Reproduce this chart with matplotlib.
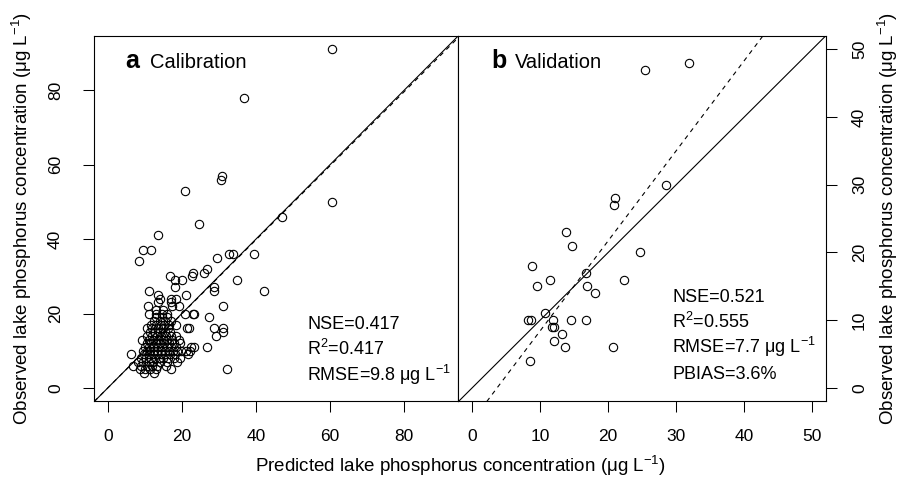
import matplotlib
matplotlib.use("Agg")
import matplotlib.pyplot as plt

# ---------------- data ----------------
# Calibration: predicted vs observed lake P (ug/L)
calib_pred = [
    9.8, 12.5,
    8.6, 10.1, 11.3, 13.0, 17.0, 32.3,
    6.9, 8.9, 10.5, 11.9, 13.4, 15.6,
    8.1, 9.6, 11.0, 12.3, 14.1, 16.0, 18.8,
    9.0, 10.3, 11.6, 12.7, 13.7, 14.9, 16.3, 17.8, 19.6,
    6.4, 9.9, 11.1, 12.1, 13.2, 14.4, 15.5, 16.8, 18.1, 21.6,
    9.5, 10.6, 11.5, 12.5, 13.4, 14.5, 15.4, 16.5, 17.6, 18.6, 19.8, 21.1, 22.1,
    10.1, 11.2, 12.3, 13.5, 14.6, 15.9, 17.1, 18.4, 22.5, 23.3, 26.7,
    10.6, 11.8, 13.0, 14.2, 15.3, 16.6, 18.0, 19.6,
    9.3, 11.0, 12.2, 13.6, 14.8, 16.0, 17.3, 19.2,
    10.7, 12.0, 13.2, 14.5, 15.8, 17.0, 18.3, 29.3,
    11.5, 12.8, 14.0, 15.5, 16.8, 31.1,
    10.5, 12.0, 13.6, 15.0, 16.3, 21.5, 21.8, 28.7, 31.0,
    11.6, 13.0, 14.4, 15.3, 16.6, 18.5,
    12.5, 14.0, 15.5, 17.1,
    13.1, 14.6, 16.0, 27.4,
    11.1, 12.9, 14.7, 16.1, 20.9, 22.9, 23.3,
    12.9, 15.0,
    10.9, 17.4, 19.2, 31.0,
    13.5, 17.0,
    14.0, 17.0, 18.5,
    13.5, 21.0,
    11.1, 28.7, 42.1,
    18.2, 28.8,
    18.2, 20.0, 35.0,
    16.8, 22.6,
    22.9, 26.1,
    26.8,
    8.4,
    29.4,
    32.6, 33.7, 39.5,
    9.5, 11.7,
    13.6,
    24.6,
    47.1,
    60.6,
    20.8,
    30.6,
    30.8,
    36.8,
    60.4,
]
calib_obs = [
    4, 4,
    5, 5, 5, 5, 5, 5,
    6, 6, 6, 6, 6, 6,
    7, 7, 7, 7, 7, 7, 7,
    8, 8, 8, 8, 8, 8, 8, 8, 8,
    9, 9, 9, 9, 9, 9, 9, 9, 9, 9,
    10, 10, 10, 10, 10, 10, 10, 10, 10, 10, 10, 10, 10,
    11, 11, 11, 11, 11, 11, 11, 11, 11, 11, 11,
    12, 12, 12, 12, 12, 12, 12, 12,
    13, 13, 13, 13, 13, 13, 13, 13,
    14, 14, 14, 14, 14, 14, 14, 14,
    15, 15, 15, 15, 15, 15,
    16, 16, 16, 16, 16, 16, 16, 16, 16,
    17, 17, 17, 17, 17, 17,
    18, 18, 18, 18,
    19, 19, 19, 19,
    20, 20, 20, 20, 20, 20, 20,
    21, 21,
    22, 22, 22, 22,
    23, 23,
    24, 24, 24,
    25, 25,
    26, 26, 26,
    27, 27,
    29, 29, 29,
    30, 30,
    31, 31,
    32,
    34,
    35,
    36, 36, 36,
    37, 37,
    41,
    44,
    46,
    50,
    53,
    56,
    57,
    78,
    91,
]

# Validation
val_pred = [25.4, 31.9, 28.5, 21.0, 20.8, 13.8, 14.7, 24.7, 8.8, 11.5, 22.3,
            16.8, 9.6, 16.9, 18.0, 10.75, 8.2, 8.7, 11.9, 14.5, 16.8, 11.8,
            12.0, 13.2, 12.0, 13.6, 20.7, 8.5]
val_obs = [47, 48, 30, 28, 27, 23, 21, 20, 18, 16, 16,
           17, 15, 15, 14, 11, 10, 10, 10, 10, 10, 9,
           9, 8, 7, 6, 6, 4]

# regression lines (observed ~ predicted)
calib_fit = (0.0, 0.995)     # intercept, slope
val_fit = (-4.88, 1.33)

calib_stats = ["NSE=0.417", "R$^2$=0.417", r"RMSE=9.8 $\mathrm{\mu g\ L^{-1}}$"]
val_stats = ["NSE=0.521", "R$^2$=0.555", r"RMSE=7.7 $\mathrm{\mu g\ L^{-1}}$", "PBIAS=3.6%"]

calib_ticks = [0, 20, 40, 60, 80]
val_ticks = [0, 10, 20, 30, 40, 50]

# ---------------- style ----------------
plt.rcParams["font.family"] = ["Liberation Sans", "DejaVu Sans"]
plt.rcParams["mathtext.fontset"] = "custom"
plt.rcParams["mathtext.rm"] = "Liberation Sans"
plt.rcParams["mathtext.it"] = "Liberation Sans:italic"
plt.rcParams["mathtext.bf"] = "Liberation Sans:bold"

fig = plt.figure(figsize=(9.1, 4.79), dpi=100)
ax1 = fig.add_axes([0.1036, 0.1618, 0.4002, 0.7637])
ax2 = fig.add_axes([0.5038, 0.1618, 0.4038, 0.7637])

mk = dict(ls="none", marker="o", mfc="none", mec="black", ms=6, mew=0.8)

ax1.plot(calib_pred, calib_obs, **mk)
ax1.axline((0, 0), slope=1, color="black", lw=0.8)
ax1.axline((0, calib_fit[0]), slope=calib_fit[1], color="black", lw=0.8, ls=(0, (4, 4)))
ax1.set_xlim(-3.64, 94.64)
ax1.set_ylim(-3.64, 94.64)
ax1.set_xticks(calib_ticks)
ax1.set_yticks(calib_ticks)

ax2.plot(val_pred, val_obs, **mk)
ax2.axline((0, 0), slope=1, color="black", lw=0.8)
ax2.axline((0, val_fit[0]), slope=val_fit[1], color="black", lw=0.8, ls=(0, (4, 4)))
ax2.set_xlim(-2, 52)
ax2.set_ylim(-2, 52)
ax2.set_xticks(val_ticks)
ax2.set_yticks(val_ticks)

for ax in (ax1, ax2):
    for s in ax.spines.values():
        s.set_linewidth(0.8)
    ax.tick_params(axis="both", direction="out", length=8, width=0.75,
                   labelsize=12.5, color="black")
    ax.tick_params(axis="x", pad=11.5)

ax1.tick_params(axis="y", labelrotation=90, pad=14.5)
ax2.yaxis.tick_right()
ax2.tick_params(axis="y", left=False, right=True, labelleft=False,
                labelright=True, labelrotation=90, pad=10.8)
for lab in ax1.get_yticklabels():
    lab.set_va("center")
for lab in ax2.get_yticklabels():
    lab.set_va("center")

# panel labels
ax1.text(0.084, 0.9125, "a", transform=ax1.transAxes, fontsize=18,
         fontweight="bold", va="baseline")
ax1.text(0.153, 0.9125, "Calibration", transform=ax1.transAxes,
         fontsize=14.5, va="baseline")
ax2.text(0.090, 0.911, "b", transform=ax2.transAxes, fontsize=18,
         fontweight="bold", va="baseline")
ax2.text(0.154, 0.911, "Validation", transform=ax2.transAxes,
         fontsize=14.5, va="baseline")

# stats
for s, y in zip(calib_stats, [0.198, 0.127, 0.056]):
    ax1.text(0.585, y, s, transform=ax1.transAxes, fontsize=13, va="baseline")
for s, y in zip(val_stats, [0.272, 0.201, 0.133, 0.061]):
    ax2.text(0.582, y, s, transform=ax2.transAxes, fontsize=13, va="baseline")

# axis titles
unit = r"($\mathrm{\mu g\ L^{-1}}$)"
fig.text(460 / 910, 1 - 466 / 479, "Predicted lake phosphorus concentration " + unit,
         ha="center", va="center", fontsize=13.5)
fig.text(22 / 910, 1 - 218.6 / 479, "Observed lake phosphorus concentration " + unit,
         ha="center", va="center", rotation=90, fontsize=13.5)
fig.text(888 / 910, 1 - 218.6 / 479, "Observed lake phosphorus concentration " + unit,
         ha="center", va="center", rotation=90, fontsize=13.5)

fig.savefig("out.png", dpi=100)
